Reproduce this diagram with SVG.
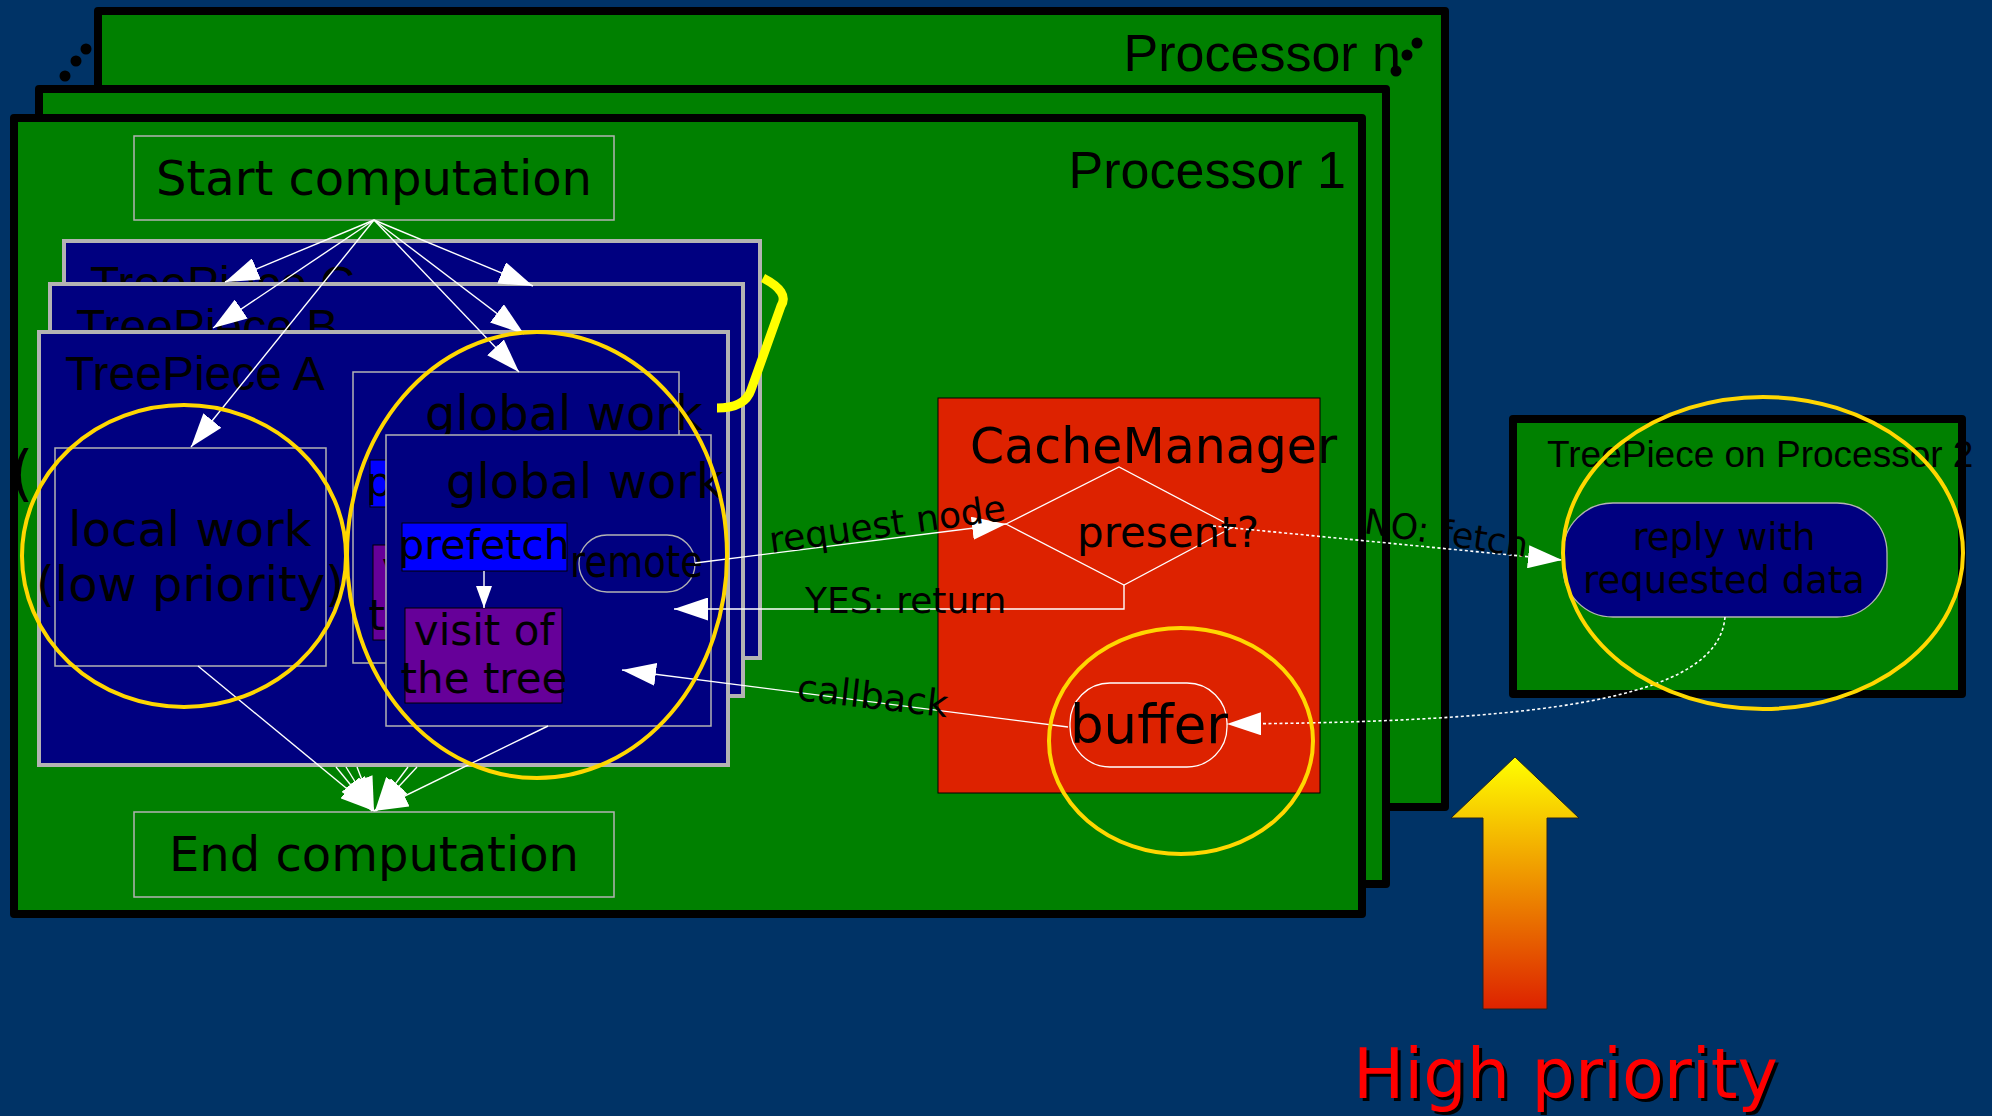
<svg xmlns="http://www.w3.org/2000/svg" width="1992" height="1116" viewBox="0 0 1992 1116">
<style>
.proc{fill:#008000;stroke:#000;stroke-width:8;stroke-linejoin:round}
.tp{fill:#000080;stroke:#b3b3b3;stroke-width:4}
.inner{fill:#000080;stroke:#b3b3b3;stroke-width:1.5}
.plain{fill:#008000;stroke:#b3b3b3;stroke-width:1.5}
.dv{font-family:"DejaVu Sans","Noto Sans",sans-serif;fill:#000}
.ls{font-family:"Liberation Sans",Arial,sans-serif;fill:#000}
.ln{fill:none;stroke:#fff;stroke-width:1.4}
.dot{fill:none;stroke:#fff;stroke-width:1.6;stroke-dasharray:3 2.5}
.hl{fill:none;stroke:#ffd700;stroke-width:4}
</style>
<defs>
<marker id="ah" markerUnits="userSpaceOnUse" markerWidth="34" markerHeight="23" refX="34" refY="11.5" orient="auto"><path d="M0,0 L34,11.5 L0,23 z" fill="#fff"/></marker>
<marker id="ahs" markerUnits="userSpaceOnUse" markerWidth="22" markerHeight="16" refX="22" refY="8" orient="auto"><path d="M0,0 L22,8 L0,16 z" fill="#fff"/></marker>
<linearGradient id="grad" x1="0" y1="0" x2="0" y2="1"><stop offset="0" stop-color="#ffff00"/><stop offset="1" stop-color="#dd2200"/></linearGradient>
</defs>
<rect width="1992" height="1116" fill="#003366"/>

<g id="processor-n">
<rect class="proc" x="98" y="11" width="1347" height="796"/>
<text class="ls" x="1401" y="71" font-size="52" text-anchor="end">Processor n</text>
<circle cx="1417" cy="43" r="5.5"/><circle cx="1407" cy="55" r="5.5"/><circle cx="1396" cy="71" r="5.5"/>
<circle cx="86" cy="49" r="5.5"/><circle cx="76" cy="61" r="5.5"/><circle cx="65" cy="76" r="5.5"/>
</g>
<g id="processor-2">
<rect class="proc" x="39" y="89" width="1347" height="795"/>
</g>
<g id="processor-1">
<rect class="proc" x="14" y="118" width="1348" height="796"/>
<text class="ls" x="1346" y="188" font-size="52" text-anchor="end">Processor 1</text>
</g>
<text class="dv" x="10" y="494" font-size="60">(</text>

<g id="start">
<rect class="plain" x="134" y="136" width="480" height="84"/>
<text class="dv" x="374" y="195" font-size="48" text-anchor="middle">Start computation</text>
</g>
<g id="end">
<rect class="plain" x="134" y="812" width="480" height="85"/>
<text class="dv" x="374" y="871" font-size="48" text-anchor="middle">End computation</text>
</g>

<g id="treepiece-c">
<rect class="tp" x="64" y="241" width="696" height="417"/>
<text class="ls" x="90" y="300" font-size="48">TreePiece C</text>
</g>
<g id="treepiece-b">
<rect class="tp" x="50" y="284" width="693" height="412"/>
<text class="ls" x="76" y="343" font-size="48">TreePiece B</text>
</g>
<g id="treepiece-a">
<rect class="tp" x="39" y="332" width="689" height="433"/>
<text class="ls" x="65" y="390" font-size="48">TreePiece A</text>
<g id="local-work">
<rect class="inner" x="55" y="448" width="271" height="218"/>
<text class="dv" x="190" y="546" font-size="48" text-anchor="middle">local work</text>
<text class="dv" x="190" y="601" font-size="48" text-anchor="middle">(low priority)</text>
</g>
<g id="global-work-back">
<rect class="inner" x="353" y="372" width="326" height="291"/>
<text class="dv" x="425" y="430" font-size="48">global work</text>
<rect x="370" y="460" width="165" height="47" fill="#0000ff" stroke="#000" stroke-width="1"/>
<text class="dv" x="366" y="496" font-size="41">prefetch</text>
<rect x="373" y="545" width="157" height="95" fill="#660099" stroke="#000" stroke-width="1"/>
<text class="dv" x="452" y="582" font-size="42" text-anchor="middle">visit of</text>
<text class="dv" x="452" y="630" font-size="42" text-anchor="middle">the tree</text>
</g>
<g id="global-work">
<rect class="inner" x="386" y="435" width="325" height="291"/>
<text class="dv" x="446" y="498" font-size="48">global work</text>
</g>
<g id="prefetch">
<rect x="402" y="523" width="165" height="48" fill="#0000ff" stroke="#000" stroke-width="1"/>
<text class="dv" x="484" y="559" font-size="41" text-anchor="middle">prefetch</text>
</g>
<g id="visit">
<rect x="405" y="608" width="157" height="95" fill="#660099" stroke="#000" stroke-width="1"/>
<text class="dv" x="484" y="645" font-size="42" text-anchor="middle">visit of</text>
<text class="dv" x="484" y="693" font-size="42" text-anchor="middle">the tree</text>
</g>
<g id="remote">
<rect x="579" y="535" width="116" height="57" rx="28" fill="none" stroke="#b3b3b3" stroke-width="1.3"/>
<text class="dv" x="570" y="577" font-size="44" textLength="133" lengthAdjust="spacingAndGlyphs">remote</text>
</g>
</g>

<g id="cache-manager">
<rect x="938" y="398" width="382" height="395" fill="#dd2200" stroke="#000" stroke-width="1"/>
<text class="dv" x="970" y="463" font-size="49">CacheManager</text>
<g id="present">
<polygon points="1006,524 1119,467 1233,527 1124,585" fill="none" stroke="#fff" stroke-width="1.3"/>
<text class="dv" x="1077" y="547" font-size="42">present?</text>
</g>
<g id="buffer">
<rect x="1070" y="683" width="157" height="84" rx="40" fill="none" stroke="#fff" stroke-width="1.3"/>
<text class="dv" x="1149" y="743" font-size="53" text-anchor="middle">buffer</text>
</g>
</g>

<g id="treepiece-p2">
<rect class="proc" x="1513" y="419" width="449" height="275"/>
<text class="ls" x="1547" y="467" font-size="37">TreePiece on Processor 2</text>
<g id="reply">
<rect x="1563" y="503" width="324" height="114" rx="50" fill="#000080" stroke="#b3b3b3" stroke-width="1.3"/>
<text class="dv" x="1724" y="550" font-size="37" text-anchor="middle">reply with</text>
<text class="dv" x="1724" y="593" font-size="37" text-anchor="middle">requested data</text>
</g>
</g>

<g id="connectors">
<line class="ln" x1="374" y1="220" x2="225" y2="282" marker-end="url(#ah)"/>
<line class="ln" x1="374" y1="220" x2="213" y2="328" marker-end="url(#ah)"/>
<line class="ln" x1="374" y1="220" x2="191" y2="447" marker-end="url(#ah)"/>
<line class="ln" x1="374" y1="220" x2="533" y2="286" marker-end="url(#ah)"/>
<line class="ln" x1="374" y1="220" x2="524" y2="334" marker-end="url(#ah)"/>
<line class="ln" x1="374" y1="220" x2="519" y2="372" marker-end="url(#ah)"/>
<line class="ln" x1="198" y1="666" x2="374" y2="811" marker-end="url(#ah)"/>
<line class="ln" x1="548" y1="726" x2="374" y2="811" marker-end="url(#ah)"/>
<line class="ln" x1="336" y1="767" x2="372" y2="811" marker-end="url(#ah)"/>
<line class="ln" x1="346" y1="767" x2="373" y2="811" marker-end="url(#ah)"/>
<line class="ln" x1="357" y1="767" x2="374" y2="811" marker-end="url(#ah)"/>
<line class="ln" x1="408" y1="767" x2="375" y2="811" marker-end="url(#ah)"/>
<line class="ln" x1="417" y1="767" x2="376" y2="811" marker-end="url(#ah)"/>
<line class="ln" x1="484" y1="571" x2="484" y2="608" marker-end="url(#ahs)"/>
<line class="ln" x1="695" y1="563" x2="1006" y2="524" marker-end="url(#ah)"/>
<polyline class="ln" points="1124,585 1124,609 674,609" marker-end="url(#ah)"/>
<line class="ln" x1="1068" y1="727" x2="622" y2="670" marker-end="url(#ah)"/>
<line class="dot" x1="1213" y1="526" x2="1562" y2="560" marker-end="url(#ah)"/>
<path class="dot" d="M1725,617 C1718,700 1540,722 1227,724" marker-end="url(#ah)"/>
<text class="dv" x="771" y="553" font-size="36" transform="rotate(-8 771 553)">request node</text>
<text class="dv" x="805" y="613" font-size="36">YES: return</text>
<text class="dv" x="796" y="700" font-size="37" transform="rotate(6.5 796 700)">callback</text>
<text class="dv" x="1363" y="533" font-size="35" transform="rotate(8.5 1363 533)">NO: fetch</text>
</g>

<g id="highlights">
<ellipse class="hl" cx="184" cy="556" rx="162" ry="151"/>
<ellipse class="hl" cx="537" cy="555" rx="190" ry="223"/>
<ellipse class="hl" cx="1181" cy="741" rx="132" ry="113"/>
<ellipse class="hl" cx="1763" cy="553" rx="200" ry="156"/>
<path d="M763,278 Q790,292 781,306 L751,390 Q745,408 717,408" fill="none" stroke="#ffff00" stroke-width="9"/>
</g>

<g id="high-priority">
<polygon points="1515,757 1579,818 1547,818 1547,1009 1483,1009 1483,818 1451,818" fill="url(#grad)" stroke="#222" stroke-width="1"/>
<text class="dv" x="1356" y="1101" font-size="70" textLength="425" lengthAdjust="spacingAndGlyphs" style="fill:#000">High priority</text>
<text class="dv" x="1353" y="1098" font-size="70" textLength="425" lengthAdjust="spacingAndGlyphs" style="fill:#ff0000">High priority</text>
</g>
</svg>
